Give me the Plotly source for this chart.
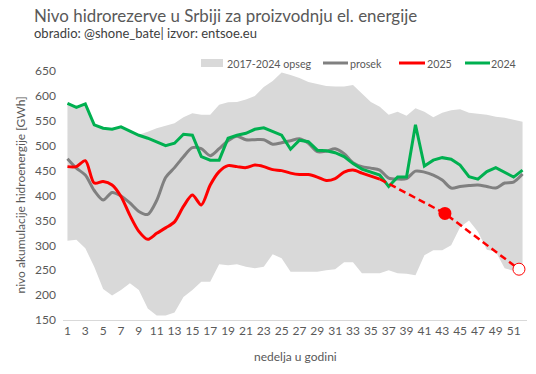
import plotly.graph_objects as go

weeks = list(range(1, 53))

range_max = [585, 577, 584, 542, 535, 533, 538, 530, 522, 528, 535, 540, 545, 557, 565, 562, 562, 582, 587, 588,
             593, 600, 618, 630, 647, 642, 636, 628, 624, 620, 619, 619, 622, 605, 588, 578, 562, 568, 560, 575,
             568, 557, 566, 571, 573, 566, 564, 562, 558, 556, 552, 548]
range_min = [309, 311, 294, 257, 212, 199, 210, 224, 210, 173, 159, 159, 165, 196, 210, 227, 227, 262, 260, 262,
             257, 254, 257, 282, 274, 247, 247, 247, 247, 250, 252, 266, 266, 244, 244, 244, 250, 244, 243, 240,
             280, 290, 290, 300, 336, 350, 327, 291, 287, 254, 249, 250]
prosek = [474, 455, 441, 410, 391, 406, 399, 385, 368, 362, 390, 436, 456, 478, 496, 494, 480, 494, 510, 519,
          512, 512, 512, 503, 506, 510, 514, 505, 488, 489, 494, 484, 466, 458, 455, 451, 435, 433, 434, 449,
          447, 441, 431, 415, 418, 420, 421, 418, 415, 425, 427, 443]
y2024 = [585, 577, 584, 542, 535, 533, 538, 530, 521, 515, 508, 500, 505, 523, 521, 478, 471, 471, 515, 521,
         525, 533, 536, 528, 521, 493, 511, 508, 491, 490, 486, 478, 464, 453, 447, 441, 418, 437, 437, 542,
         459, 471, 476, 473, 461, 438, 433, 448, 456, 446, 437, 451]
y2025 = [458, 458, 470, 425, 428, 421, 398, 360, 328, 312, 324, 335, 347, 378, 401, 381, 421, 448, 460, 458,
         456, 461, 458, 452, 450, 445, 442, 442, 437, 430, 434, 447, 451, 445, 439, 433]
weeks2025 = weeks[:len(y2025)]

# projection of 2025 (dashed)
proj_weeks = [36, 43.3, 51.6]
proj_vals = [433, 364, 252]

x_ticks = list(range(1, 53, 2))
x_ticktext = [str(v) for v in x_ticks]
y_ticks = list(range(150, 651, 50))

legend_names = ["2017-2024 opseg", "prosek", "2025", "2024"]
legend_colors = ["#d9d9d9", "#808080", "#ff0000", "#00b050"]

FONT = "Lato"
TXT = "#595959"
W, H = 536, 374
L, R, T, B = 63, 9, 71, 54
PW, PH = W - L - R, H - T - B


def px(xp):
    return (xp - L) / PW


def py(yp):
    return (H - B - yp) / PH


fig = go.Figure()
fig.add_trace(go.Scatter(x=weeks, y=range_min, mode="lines", line=dict(width=0, color="#d9d9d9"),
                         showlegend=False, hoverinfo="skip"))
fig.add_trace(go.Scatter(x=weeks, y=range_max, mode="lines", line=dict(width=0, color="#d9d9d9"),
                         fill="tonexty", fillcolor="#d9d9d9", name=legend_names[0], showlegend=False))
fig.add_trace(go.Scatter(x=weeks, y=prosek, mode="lines", name=legend_names[1], showlegend=False,
                         line=dict(color="#808080", width=3, shape="spline", smoothing=0.8)))
fig.add_trace(go.Scatter(x=weeks2025, y=y2025, mode="lines", name=legend_names[2], showlegend=False,
                         line=dict(color="#ff0000", width=3, shape="spline", smoothing=0.8)))
fig.add_trace(go.Scatter(x=weeks, y=y2024, mode="lines", name=legend_names[3], showlegend=False,
                         line=dict(color="#00b050", width=3)))
fig.add_trace(go.Scatter(x=proj_weeks, y=proj_vals, mode="lines", showlegend=False,
                         line=dict(color="#ff0000", width=2.5, dash="7px,4px")))
fig.add_trace(go.Scatter(x=[proj_weeks[1]], y=[proj_vals[1]], mode="markers", showlegend=False,
                         marker=dict(size=13, color="#ff0000", line=dict(width=0))))
fig.add_trace(go.Scatter(x=[proj_weeks[2]], y=[proj_vals[2]], mode="markers", showlegend=False,
                         marker=dict(size=12, color="white", line=dict(width=1, color="#ff0000"))))

# manual legend (pixel layout converted to paper coordinates)
shapes = []
annotations = []
leg_y = 63
sym_x = [(201, 223), (323, 348), (399, 425), (465, 490)]
txt_x = [227, 350, 427, 491]
for i, name in enumerate(legend_names):
    x0, x1 = sym_x[i]
    if i == 0:
        shapes.append(dict(type="rect", xref="paper", yref="paper", x0=px(x0), x1=px(x1),
                           y0=py(leg_y + 4), y1=py(leg_y - 4), fillcolor=legend_colors[i], line=dict(width=0)))
    else:
        shapes.append(dict(type="line", xref="paper", yref="paper", x0=px(x0), x1=px(x1),
                           y0=py(leg_y), y1=py(leg_y), line=dict(color=legend_colors[i], width=3)))
    annotations.append(dict(text=name, x=px(txt_x[i]), y=py(leg_y), xref="paper", yref="paper",
                            showarrow=False, xanchor="left", yanchor="middle", xshift=-2,
                            font=dict(size=10.7, color=TXT, family=FONT)))

annotations += [
    dict(text="Nivo hidrorezerve u Srbiji za proizvodnju el. energije", x=px(32), y=py(15),
         xref="paper", yref="paper", showarrow=False, xanchor="left", yanchor="middle",
         font=dict(size=16.9, color=TXT, family=FONT)),
    dict(text="obradio: @shone_bate| izvor: entsoe.eu", x=px(32), y=py(33),
         xref="paper", yref="paper", showarrow=False, xanchor="left", yanchor="middle",
         font=dict(size=13, color="#404040", family=FONT)),
    dict(text="nedelja u godini", x=0.5, y=py(356), xref="paper", yref="paper", showarrow=False,
         xanchor="center", yanchor="middle", font=dict(size=12, color=TXT, family=FONT)),
    dict(text="nivo akumulacije hidroenergije [GWh]", x=px(20), y=0.5, xref="paper", yref="paper",
         showarrow=False, textangle=-90, xanchor="center", yanchor="middle",
         font=dict(size=12, color=TXT, family=FONT)),
]

fig.update_layout(
    width=W, height=H,
    margin=dict(l=L, r=R, t=T, b=B),
    paper_bgcolor="white", plot_bgcolor="white",
    font=dict(family=FONT, size=12, color=TXT),
    showlegend=False,
    xaxis=dict(range=[0.5, 52.5], tickvals=x_ticks, ticktext=x_ticktext, showgrid=False,
               zeroline=False, showline=True, linecolor="#d9d9d9", linewidth=1, ticks="",
               tickfont=dict(size=12, color=TXT)),
    yaxis=dict(range=[150, 650], tickvals=y_ticks, showgrid=False, zeroline=False, showline=False,
               ticks="", tickfont=dict(size=12, color=TXT), ticklabelstandoff=6),
    shapes=shapes,
    annotations=annotations,
)

fig.write_html("out.html", config={"displayModeBar": False},
               post_script="document.body.style.margin='0';")
